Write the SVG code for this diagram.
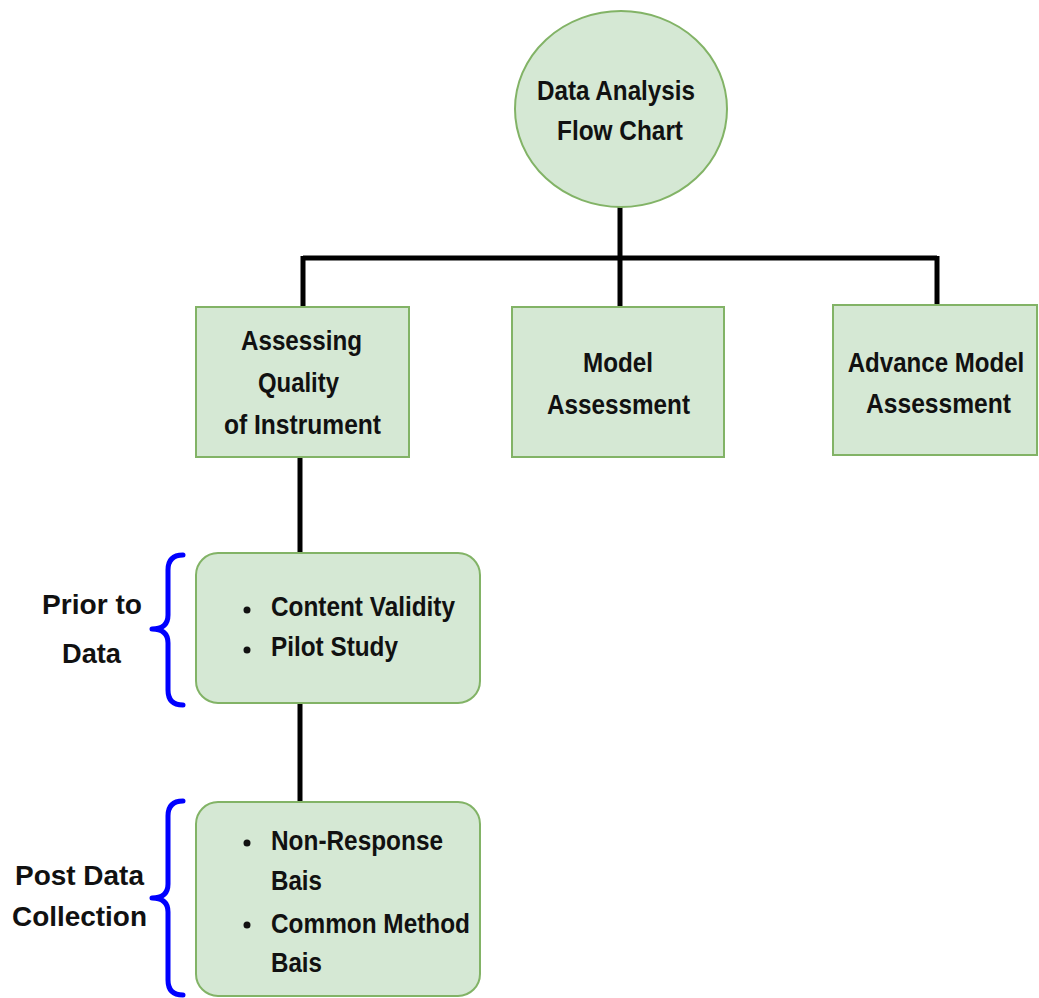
<svg xmlns="http://www.w3.org/2000/svg" width="1039" height="998" viewBox="0 0 1039 998">
  <style>
    .node { fill: #d5e8d4; stroke: #82b366; stroke-width: 2; }
    .t { font-family: "Liberation Sans", Arial, sans-serif; font-weight: bold; font-size: 28px; fill: #111; }
    .c { text-anchor: middle; }
    .conn { stroke: #000; stroke-width: 5; fill: none; }
    .brace { stroke: #0000ff; stroke-width: 5; fill: none; stroke-linecap: round; stroke-linejoin: round; }
  </style>
  <rect width="1039" height="998" fill="#fff"/>
  <g id="connectors">
    <path class="conn" d="M620 207 V258"/>
    <path class="conn" d="M303 258 H937"/>
    <path class="conn" d="M303 256 V307"/>
    <path class="conn" d="M620 258 V307"/>
    <path class="conn" d="M937 256 V305"/>
    <path class="conn" d="M300 457 V553"/>
    <path class="conn" d="M300 703 V802"/>
  </g>
  <g id="root">
    <ellipse class="node" cx="621" cy="109" rx="106" ry="98"/>
    <text class="t c" x="616" y="100" textLength="158" lengthAdjust="spacingAndGlyphs">Data Analysis</text>
    <text class="t c" x="620" y="140" textLength="126" lengthAdjust="spacingAndGlyphs">Flow Chart</text>
  </g>
  <g id="quality">
    <rect class="node" x="196" y="307" width="213" height="150"/>
    <text class="t c" x="301.5" y="350" textLength="121" lengthAdjust="spacingAndGlyphs">Assessing</text>
    <text class="t c" x="298.5" y="392" textLength="81" lengthAdjust="spacingAndGlyphs">Quality</text>
    <text class="t c" x="302.5" y="434" textLength="157" lengthAdjust="spacingAndGlyphs">of Instrument</text>
  </g>
  <g id="model">
    <rect class="node" x="512" y="307" width="212" height="150"/>
    <text class="t c" x="618" y="372" textLength="70" lengthAdjust="spacingAndGlyphs">Model</text>
    <text class="t c" x="618.5" y="414" textLength="143" lengthAdjust="spacingAndGlyphs">Assessment</text>
  </g>
  <g id="advance">
    <rect class="node" x="833" y="305" width="204" height="150"/>
    <text class="t c" transform="translate(936 372) scale(0.86 1)" x="0" y="0">Advance Model</text>
    <text class="t c" x="938.5" y="413" textLength="145" lengthAdjust="spacingAndGlyphs">Assessment</text>
  </g>
  <g id="prior">
    <rect class="node" x="196" y="553" width="284" height="150" rx="22" ry="22"/>
    <circle cx="247" cy="610" r="3.5" fill="#111"/>
    <circle cx="247" cy="650" r="3.5" fill="#111"/>
    <text class="t" x="271" y="616" textLength="184" lengthAdjust="spacingAndGlyphs">Content Validity</text>
    <text class="t" x="271" y="656" textLength="127" lengthAdjust="spacingAndGlyphs">Pilot Study</text>
  </g>
  <g id="post">
    <rect class="node" x="196" y="802" width="284" height="194" rx="22" ry="22"/>
    <circle cx="247" cy="843" r="3.5" fill="#111"/>
    <circle cx="247" cy="925" r="3.5" fill="#111"/>
    <text class="t" x="271" y="850" textLength="172" lengthAdjust="spacingAndGlyphs">Non-Response</text>
    <text class="t" x="271" y="890" textLength="51" lengthAdjust="spacingAndGlyphs">Bais</text>
    <text class="t" x="271" y="933" textLength="199" lengthAdjust="spacingAndGlyphs">Common Method</text>
    <text class="t" x="271" y="972" textLength="51" lengthAdjust="spacingAndGlyphs">Bais</text>
  </g>
  <g id="prior-label">
    <path class="brace" d="M183 555 Q168 555 168 570 V615 Q168 629 152 629 Q168 629 168 643 V690 Q168 705 183 705"/>
    <text class="t c" x="92" y="614" textLength="100" lengthAdjust="spacingAndGlyphs">Prior to</text>
    <text class="t c" x="91.5" y="663" textLength="59" lengthAdjust="spacingAndGlyphs">Data</text>
  </g>
  <g id="post-label">
    <path class="brace" d="M183 801 Q168 801 168 816 V884 Q168 898 152 898 Q168 898 168 912 V980 Q168 995 183 995"/>
    <text class="t c" x="79.5" y="885" textLength="129" lengthAdjust="spacingAndGlyphs">Post Data</text>
    <text class="t c" x="79.5" y="926" textLength="135" lengthAdjust="spacingAndGlyphs">Collection</text>
  </g>
</svg>
